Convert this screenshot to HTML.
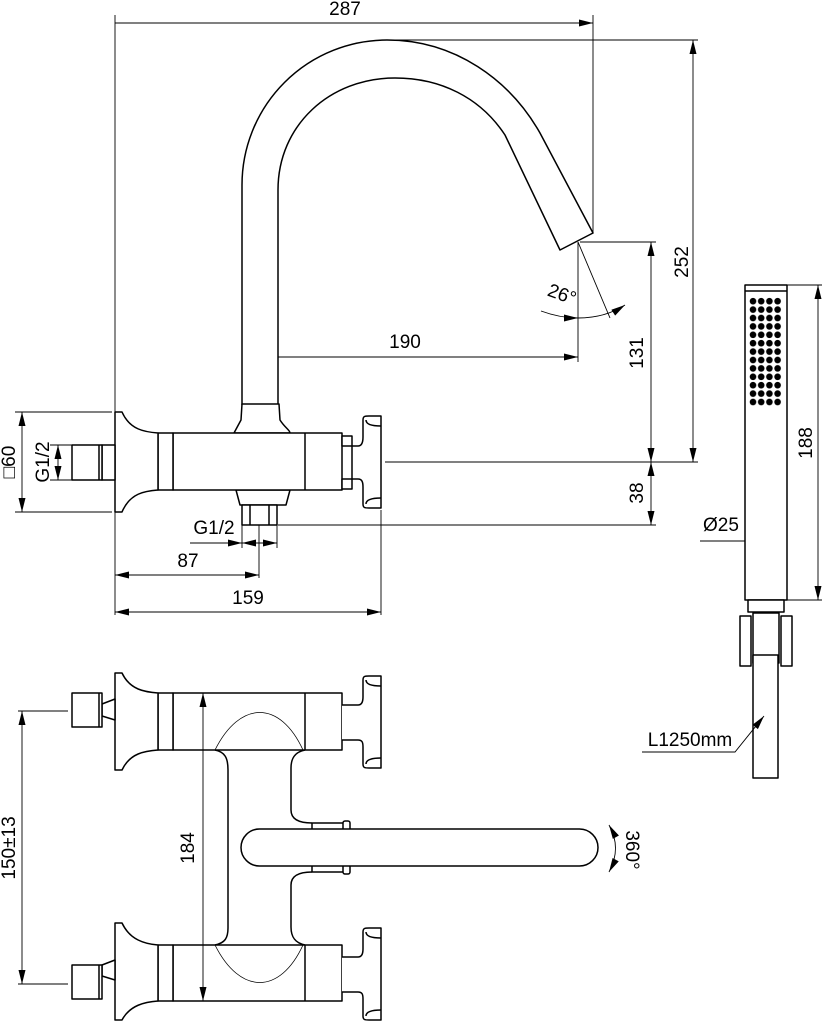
<!DOCTYPE html>
<html><head><meta charset="utf-8"><style>
html,body{margin:0;padding:0;background:#fff}
svg{display:block}
text{font-family:"Liberation Sans",sans-serif;font-size:19px;fill:#000}
</style></head><body>
<svg width="824" height="1024" viewBox="0 0 824 1024" xmlns="http://www.w3.org/2000/svg">
<defs>
<marker id="a" viewBox="0 0 16 8" refX="16" refY="4" markerWidth="15" markerHeight="7" markerUnits="userSpaceOnUse" orient="auto-start-reverse"><path d="M0,0 L16,4 L0,8z" fill="#000"/></marker>
</defs>
<g fill="none" stroke="#000" stroke-width="0.9">
<line x1="115" y1="15" x2="115" y2="615"/>
<line x1="593" y1="15" x2="593" y2="233"/>
<line x1="387" y1="40" x2="698" y2="40"/>
<line x1="580" y1="242" x2="656" y2="242"/>
<line x1="385" y1="462" x2="698" y2="462"/>
<line x1="278" y1="525" x2="656" y2="525"/>
<line x1="578" y1="242" x2="578" y2="362"/>
<line x1="259" y1="350" x2="259" y2="405"/>
<line x1="578" y1="242" x2="610" y2="318"/>
<line x1="15" y1="412" x2="112" y2="412"/>
<line x1="15" y1="512" x2="112" y2="512"/>
<line x1="50" y1="445" x2="72" y2="445"/>
<line x1="50" y1="480" x2="72" y2="480"/>
<line x1="381" y1="510" x2="381" y2="615"/>
<line x1="259" y1="525" x2="259" y2="578"/>
<line x1="242" y1="525" x2="242" y2="548"/>
<line x1="277" y1="525" x2="277" y2="548"/>
<line x1="18" y1="711" x2="68" y2="711"/>
<line x1="18" y1="984" x2="68" y2="984"/>
<line x1="787" y1="285" x2="822" y2="285"/>
<line x1="787" y1="600" x2="822" y2="600"/>
<line x1="115" y1="23" x2="593" y2="23" marker-end="url(#a)"/>
<line x1="693" y1="40" x2="693" y2="462" marker-start="url(#a)" marker-end="url(#a)"/>
<line x1="651" y1="242" x2="651" y2="462" marker-start="url(#a)" marker-end="url(#a)"/>
<line x1="651" y1="462" x2="651" y2="525" marker-start="url(#a)" marker-end="url(#a)"/>
<line x1="259" y1="357" x2="578" y2="357" marker-start="url(#a)" marker-end="url(#a)"/>
<line x1="22" y1="412" x2="22" y2="512" marker-start="url(#a)" marker-end="url(#a)"/>
<line x1="58" y1="445" x2="58" y2="480" marker-start="url(#a)" marker-end="url(#a)"/>
<line x1="190" y1="543" x2="242" y2="543" marker-end="url(#a)"/>
<line x1="259" y1="543" x2="242" y2="543" marker-end="url(#a)"/>
<line x1="259" y1="543" x2="277" y2="543" marker-end="url(#a)"/>
<line x1="115" y1="575" x2="259" y2="575" marker-start="url(#a)" marker-end="url(#a)"/>
<line x1="115" y1="612" x2="381" y2="612" marker-start="url(#a)" marker-end="url(#a)"/>
<path d="M541,311 Q560,318 578,318" marker-end="url(#a)"/>
<path d="M578,318 Q605,318 625,305" marker-end="url(#a)"/>
<line x1="818" y1="285" x2="818" y2="600" marker-start="url(#a)" marker-end="url(#a)"/>
<line x1="700" y1="541" x2="745" y2="541"/>
<line x1="766" y1="541" x2="745" y2="541" marker-end="url(#a)"/>
<line x1="766" y1="541" x2="787" y2="541" marker-end="url(#a)"/>
<line x1="22" y1="711" x2="22" y2="984" marker-start="url(#a)" marker-end="url(#a)"/>
<path d="M609,825 Q622,848 609,872" marker-start="url(#a)" marker-end="url(#a)"/>
</g>

<g fill="#fff" stroke="#000" stroke-width="1.5" stroke-linejoin="round">
<path d="M242,405 L242,185 A145,145 0 0 1 387,40 C455,40 510,80 540,133 L593,233 L560,250 L505,135 C480,97 440,78 395,78 C330,78 278,125 278,190 L278,405"/>
<path d="M242,404 L279,404 L280,420 C285,428 290,430 290,433 L234,433 L241,420 Z"/>
<path d="M236,490 L290,490 L286,505 L240,505 Z"/>
<rect x="242" y="505" width="35" height="20"/>
<line x1="250" y1="505" x2="250" y2="525"/><line x1="269" y1="505" x2="269" y2="525"/>
<rect x="173" y="433" width="169" height="57"/>
<line x1="305" y1="433" x2="305" y2="490"/>
<rect x="158" y="433" width="15" height="57"/>
<path d="M115,412 L122,412 C130,430 145,432 158,433 L158,490 C145,491 130,493 122,512 L115,512 Z"/>
<rect x="102" y="445" width="13" height="35"/>
<rect x="72" y="445" width="30" height="35"/>
<line x1="99" y1="445" x2="99" y2="480"/>
<rect x="342" y="436" width="10" height="10"/><rect x="342" y="479" width="10" height="10"/>
<path d="M352,446 L358,446 C362,446 363,442 363,437 L363,420 C363,416 365,416 369,416 L381,416 L381,508 L369,508 C365,508 363,508 363,504 L363,487 C363,482 362,479 358,479 L352,479 Z"/>
<path d="M366,420 Q366,426 381,426" fill="none"/><path d="M366,504 Q366,498 381,498" fill="none"/>
<rect x="745" y="285" width="42" height="315"/>
<line x1="745" y1="291" x2="787" y2="291"/>
<rect x="748" y="600" width="36" height="12"/>
<rect x="753" y="613" width="26" height="50"/>
<rect x="740" y="616" width="11" height="50"/>
<rect x="781" y="616" width="11" height="50"/>
<rect x="753" y="655" width="25" height="123"/>
<!-- bottom view connecting tube -->
<path d="M215,750 C225,752 228,758 228,770 L228,928 C228,938 225,943 215,945" fill="none"/>
<path d="M305,750 C295,752 291,758 291,768 L291,810 C291,820 300,823 312,823" fill="none"/>
<path d="M305,945 C295,943 291,937 291,927 L291,885 C291,875 300,872 312,872" fill="none"/>
<rect x="173" y="693" width="169" height="57"/>
<line x1="305" y1="693" x2="305" y2="750"/>
<path d="M215,750 C240,700 280,700 303,750" fill="none" stroke-width="0.8"/>
<rect x="158" y="693" width="15" height="57"/>
<path d="M115,673 L122,673 C130,690 145,692 158,693 L158,750 C145,751 130,753 122,770 L115,770 Z"/>
<path d="M102,704 L115,699 L115,720 L102,716Z"/>
<rect x="72" y="693" width="30" height="34"/>
<line x1="99" y1="693" x2="99" y2="727"/>
<path d="M342,705 L358,705 C362,705 363,701 363,697 L363,680 C363,676 365,676 369,676 L381,676 L381,768 L369,768 C365,768 363,768 363,764 L363,747 C363,742 362,740 358,740 L342,740"/>
<path d="M366,680 Q366,686 381,686" fill="none"/><path d="M366,764 Q366,758 381,758" fill="none"/>
<rect x="173" y="945" width="169" height="56"/>
<line x1="305" y1="945" x2="305" y2="1001"/>
<path d="M215,945 C240,995 280,995 303,945" fill="none" stroke-width="0.8"/>
<rect x="158" y="945" width="15" height="56"/>
<path d="M115,923 L122,923 C130,940 145,944 158,945 L158,1001 C145,1002 130,1005 122,1020 L115,1020 Z"/>
<path d="M102,965 L115,960 L115,980 L102,976Z"/>
<rect x="72" y="965" width="30" height="34"/>
<line x1="99" y1="965" x2="99" y2="999"/>
<path d="M342,957 L358,957 C362,957 363,953 363,949 L363,932 C363,928 365,928 369,928 L381,928 L381,1020 L369,1020 C365,1020 363,1020 363,1016 L363,999 C363,994 362,992 358,992 L342,992"/>
<path d="M366,932 Q366,938 381,938" fill="none"/><path d="M366,1016 Q366,1010 381,1010" fill="none"/>
<rect x="312" y="823" width="32" height="49"/>
<rect x="343" y="821" width="7" height="53" rx="2"/>
<rect x="241" y="829" width="357" height="37" rx="18.5"/>
</g>
<g fill="none" stroke="#000" stroke-width="0.9">
<line x1="203" y1="693" x2="203" y2="1001" marker-start="url(#a)" marker-end="url(#a)"/>
<path d="M642,752 L735,752 L764,716" marker-end="url(#a)"/>
</g>
<svg x="749" y="297" width="36" height="112" viewBox="0 0 36 112">
<defs><pattern id="p" width="8.2" height="8.4" patternUnits="userSpaceOnUse"><circle cx="4" cy="4.2" r="3.3" fill="#000"/></pattern></defs>
<rect width="33" height="109" fill="url(#p)"/>
</svg>
<text x="345" y="15" text-anchor="middle">287</text>
<text x="405" y="348" text-anchor="middle">190</text>
<text x="548" y="298" transform="rotate(20 555 292)">26°</text>
<text transform="translate(688,262) rotate(-90)" text-anchor="middle">252</text>
<text transform="translate(643,353) rotate(-90)" text-anchor="middle">131</text>
<text transform="translate(643,493) rotate(-90)" text-anchor="middle">38</text>
<text transform="translate(15,462) rotate(-90)" text-anchor="middle">□60</text>
<text transform="translate(49,462) rotate(-90)" text-anchor="middle">G1/2</text>
<text x="214" y="534" text-anchor="middle">G1/2</text>
<text x="188" y="567" text-anchor="middle">87</text>
<text x="248" y="604" text-anchor="middle">159</text>
<text transform="translate(812,443) rotate(-90)" text-anchor="middle">188</text>
<text x="721" y="531" text-anchor="middle">Ø25</text>
<text x="690" y="746" text-anchor="middle">L1250mm</text>
<text transform="translate(15,848) rotate(-90)" text-anchor="middle">150±13</text>
<text transform="translate(194,848) rotate(-90)" text-anchor="middle">184</text>
<text transform="translate(626,850) rotate(90)" text-anchor="middle">360°</text>
</svg>
</body></html>
